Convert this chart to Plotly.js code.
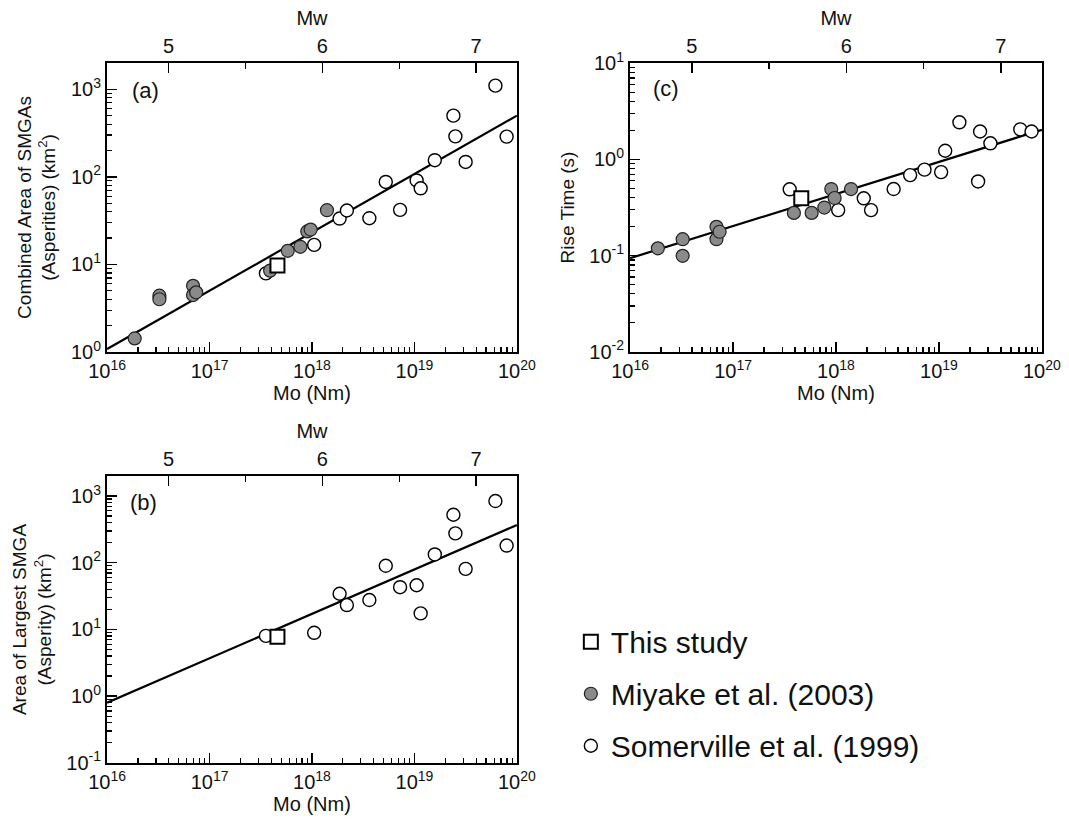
<!DOCTYPE html>
<html><head><meta charset="utf-8">
<script src="https://cdn.plot.ly/plotly-3.0.1.min.js"></script>
<style>html,body{margin:0;padding:0;background:#fff}</style>
</head><body><div id="chart" style="width:1069px;height:821px"></div>
<script>
// ---------- data ----------
const somervilleMo       = [3.55e17, 1.05e18, 1.86e18, 2.19e18, 3.63e18, 5.25e18, 7.24e18, 1.05e19, 1.15e19, 1.58e19, 2.40e19, 2.51e19, 3.16e19, 6.17e19, 7.94e19];
const somervilleCombined = [7.9, 16.7, 33.4, 41.3, 33.7, 87.5, 42, 91, 74, 155, 500, 290, 148, 1100, 288];
const somervilleLargest  = [8.0, 8.9, 34.3, 23.2, 27.6, 90, 43, 46, 17.4, 133, 524, 275, 81, 841, 181];
const somervilleRise     = [0.489, 0.297, 0.394, 0.297, 0.492, 0.687, 0.782, 0.738, 1.23, 2.43, 0.59, 1.95, 1.47, 2.05, 1.95];

const miyakeMo       = [1.86e16, 3.24e16, 3.24e16, 6.9e16, 6.9e16, 7.4e16, 3.9e17, 5.8e17, 7.7e17, 9.0e17, 9.7e17, 1.40e18];
const miyakeCombined = [1.43, 4.4, 4.0, 5.7, 4.47, 4.8, 8.5, 14.3, 15.9, 23.8, 25, 41.6];
const miyakeRise     = [0.119, 0.148, 0.0995, 0.199, 0.148, 0.177, 0.278, 0.278, 0.316, 0.492, 0.397, 0.492];

const thisStudyMo       = [4.6e17];
const thisStudyCombined = [9.7];
const thisStudyLargest  = [7.8];
const thisStudyRise     = [0.394];

const fitMo       = [1e16, 1e20];
const fitCombined = [1.08, 500];
const fitLargest  = [0.80, 368];
const fitRise     = [0.094, 2.03];

const moTickVals = [1e16, 1e17, 1e18, 1e19, 1e20];
const moTickText = ['10<sup>16</sup>', '10<sup>17</sup>', '10<sup>18</sup>', '10<sup>19</sup>', '10<sup>20</sup>'];
const areaTickVals = [1e-1, 1e0, 1e1, 1e2, 1e3];
const areaTickText = ['10<sup>-1</sup>', '10<sup>0</sup>', '10<sup>1</sup>', '10<sup>2</sup>', '10<sup>3</sup>'];
const riseTickVals = [1e-2, 1e-1, 1e0, 1e1];
const riseTickText = ['10<sup>-2</sup>', '10<sup>-1</sup>', '10<sup>0</sup>', '10<sup>1</sup>'];
const mwTickVals  = [5, 6, 7];
const mwTickText  = ['5', '6', '7'];
const mwMinorVals = [5.5, 6.5];
const mantissas = [2, 3, 4, 5, 6, 7, 8, 9];

// ---------- helpers ----------
const F = 'Liberation Sans, Arial, Helvetica, sans-serif';
const logMinor = (e0, e1) => { const v = []; for (let e = e0; e <= e1; e++) mantissas.forEach(m => v.push(m * Math.pow(10, e))); return v; };
const mwOf = logMo => (logMo - 9.1) / 1.5;
const mwRange = [mwOf(16), mwOf(20)];
const W = 1069, H = 821;
const dx = (a, b) => [a / W, b / W];
const dy = (top, bot) => [1 - bot / H, 1 - top / H];

const axisBase = {
  showgrid: false, zeroline: false, showline: true, linecolor: '#000', linewidth: 2,
  ticks: 'inside', tickcolor: '#000', tickwidth: 1.5, ticklen: 10,
  tickfont: { family: F, size: 20, color: '#111' }
};
function moAxis(domain, anchor) {
  return Object.assign({}, axisBase, {
    type: 'log', range: [15.999, 20.001], domain: domain, anchor: anchor,
    tickmode: 'array', tickvals: moTickVals, ticktext: moTickText,
    minor: { tickmode: 'array', tickvals: logMinor(16, 19), ticks: 'inside', ticklen: 5, tickwidth: 1.2, tickcolor: '#000' },
    title: { text: 'Mo (Nm)', font: { family: F, size: 20, color: '#111' }, standoff: 4 }
  });
}
function mwAxis(over, anchor) {
  return Object.assign({}, axisBase, {
    overlaying: over, side: 'top', anchor: anchor,
    range: mwRange, tickmode: 'array', tickvals: mwTickVals, ticktext: mwTickText,
    minor: { tickmode: 'array', tickvals: mwMinorVals, ticks: 'inside', ticklen: 6, tickwidth: 1.2, tickcolor: '#000' },
    title: { text: 'Mw', font: { family: F, size: 20, color: '#111' }, standoff: 4 }
  });
}
function yLogAxis(domain, anchor, range, tv, tt, e0, e1, title) {
  return Object.assign({}, axisBase, {
    type: 'log', range: range, domain: domain, anchor: anchor, mirror: true,
    tickmode: 'array', tickvals: tv, ticktext: tt,
    minor: { tickmode: 'array', tickvals: logMinor(e0, e1), ticks: 'inside', ticklen: 5, tickwidth: 1.2, tickcolor: '#000' },
    title: { text: title, font: { family: F, size: 19, color: '#111' }, standoff: 10 }
  });
}

const openCircle = { symbol: 'circle', size: 13, color: '#fff', line: { color: '#000', width: 1.4 } };
const grayCircle = { symbol: 'circle', size: 13, color: '#8a8a8a', line: { color: '#222', width: 1.2 } };
const openSquare = { symbol: 'square', size: 14, color: '#fff', line: { color: '#000', width: 2 } };
const fitLine = { color: '#000', width: 2.2 };

function panel(xa, xTop, ya, fitY, somerY, miyakeY, thisY, legend) {
  const t = [];
  // invisible carrier so the Mw (top) axis is drawn
  t.push({ x: mwRange, y: fitY, mode: 'markers', marker: { opacity: 0 }, xaxis: xTop, yaxis: ya, showlegend: false, hoverinfo: 'skip' });
  t.push({ x: fitMo, y: fitY, mode: 'lines', line: fitLine, xaxis: xa, yaxis: ya, showlegend: false, hoverinfo: 'skip' });
  t.push({ x: somervilleMo, y: somerY, mode: 'markers', marker: openCircle, xaxis: xa, yaxis: ya,
           name: 'Somerville et al. (1999)', showlegend: legend, legendrank: 3, legendgroup: 's', cliponaxis: false });
  if (miyakeY) t.push({ x: miyakeMo, y: miyakeY, mode: 'markers', marker: grayCircle, xaxis: xa, yaxis: ya,
           name: 'Miyake et al. (2003)', showlegend: legend, legendrank: 2, legendgroup: 'm', cliponaxis: false });
  t.push({ x: thisStudyMo, y: thisY, mode: 'markers', marker: openSquare, xaxis: xa, yaxis: ya,
           name: 'This study', showlegend: legend, legendrank: 1, legendgroup: 't', cliponaxis: false });
  return t;
}

const traces = [].concat(
  panel('x', 'x2', 'y', fitCombined, somervilleCombined, miyakeCombined, thisStudyCombined, true),
  panel('x3', 'x4', 'y2', fitRise, somervilleRise, miyakeRise, thisStudyRise, false),
  panel('x5', 'x6', 'y3', fitLargest, somervilleLargest, null, thisStudyLargest, false)
);

const aX = dx(107, 517), cX = dx(630, 1042);
const topY = dy(63, 352), botY = dy(476, 763);

const layout = {
  width: W, height: H, margin: { l: 0, r: 0, t: 0, b: 0 },
  paper_bgcolor: '#fff', plot_bgcolor: '#fff',
  font: { family: F, color: '#111' },
  xaxis: moAxis(aX, 'y'),
  xaxis2: mwAxis('x', 'y'),
  yaxis: yLogAxis(topY, 'x', [0, 3.3], areaTickVals, areaTickText, 0, 3,
                  'Combined Area of SMGAs<br>(Asperities) (km<sup>2</sup>)'),
  xaxis3: moAxis(cX, 'y2'),
  xaxis4: mwAxis('x3', 'y2'),
  yaxis2: yLogAxis(topY, 'x3', [-2.002, 1.002], riseTickVals, riseTickText, -2, 0, 'Rise Time (s)'),
  xaxis5: moAxis(aX, 'y3'),
  xaxis6: mwAxis('x5', 'y3'),
  yaxis3: yLogAxis(botY, 'x5', [-1.002, 3.3], areaTickVals, areaTickText, -1, 3,
                   'Area of Largest SMGA<br>(Asperity) (km<sup>2</sup>)'),
  showlegend: true,
  legend: { x: 0.534, y: 0.25, xanchor: 'left', yanchor: 'top', bgcolor: 'rgba(0,0,0,0)',
            font: { family: F, size: 30, color: '#111' }, tracegroupgap: 10, itemwidth: 30 },
  annotations: [
    { text: '(a)', x: 130 / W, y: 1 - 90 / H, xref: 'paper', yref: 'paper', xanchor: 'left', yanchor: 'middle', showarrow: false, font: { family: F, size: 22, color: '#111' } },
    { text: '(c)', x: 651 / W, y: 1 - 88 / H, xref: 'paper', yref: 'paper', xanchor: 'left', yanchor: 'middle', showarrow: false, font: { family: F, size: 22, color: '#111' } },
    { text: '(b)', x: 128 / W, y: 1 - 502 / H, xref: 'paper', yref: 'paper', xanchor: 'left', yanchor: 'middle', showarrow: false, font: { family: F, size: 22, color: '#111' } }
  ]
};

Plotly.newPlot('chart', traces, layout, { displayModeBar: false, staticPlot: true });
</script>
</body></html>
